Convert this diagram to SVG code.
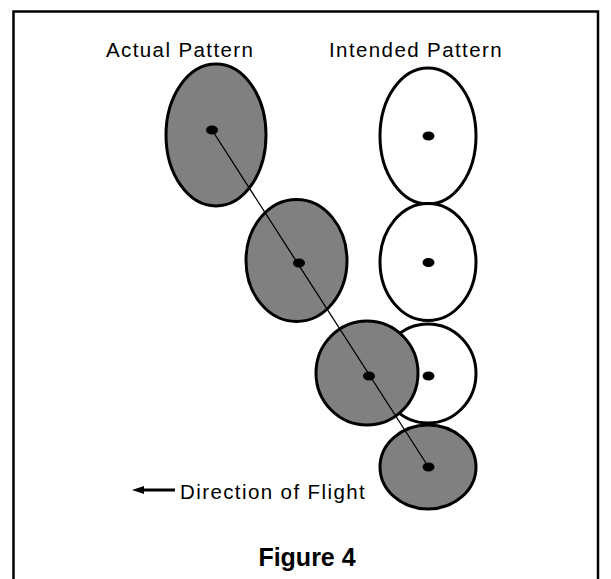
<svg xmlns="http://www.w3.org/2000/svg" width="611" height="579" viewBox="0 0 611 579">
<style>
.lbl{font-family:"Liberation Sans",Arial,sans-serif;font-size:20.5px;fill:#000;letter-spacing:1.4px}
.act{fill:#808080;stroke:#000;stroke-width:3}
.int{fill:#fff;stroke:#000;stroke-width:3}
.dot{fill:#000}
</style>
<defs>
<marker id="ah" viewBox="0 0 12 8" refX="2" refY="4" markerUnits="userSpaceOnUse" markerWidth="12" markerHeight="8" orient="auto">
<path d="M0,0 L12,4 L0,8 z" fill="#000"/>
</marker>
</defs>
<rect x="0" y="0" width="611" height="579" fill="#fff"/>
<rect x="13.5" y="11.5" width="584.5" height="580" fill="none" stroke="#000" stroke-width="2.5"/>
<text class="lbl" x="106" y="57">Actual Pattern</text>
<text class="lbl" x="329" y="57">Intended Pattern</text>
<g id="intended1"><ellipse class="int" cx="428" cy="136" rx="48" ry="68"/></g>
<g id="intended2"><ellipse class="int" cx="428" cy="262" rx="48" ry="58.5"/></g>
<g id="intended3"><ellipse class="int" cx="428" cy="373.5" rx="48" ry="49.5"/></g>
<g id="actual1"><ellipse class="act" cx="216" cy="135" rx="50" ry="71"/></g>
<g id="actual2"><ellipse class="act" cx="296.5" cy="260.5" rx="50.5" ry="61"/></g>
<g id="actual3"><ellipse class="act" cx="367" cy="373" rx="51" ry="52"/></g>
<g id="actual4"><ellipse class="act" cx="428" cy="467" rx="48" ry="42"/></g>
<g id="connectors">
<line x1="212" y1="130" x2="428.5" y2="467" stroke="#000" stroke-width="1.3"/>
<line x1="175" y1="490" x2="142" y2="490" stroke="#000" stroke-width="2.8" marker-end="url(#ah)"/>
</g>
<g id="dots">
<ellipse class="dot" cx="212" cy="130" rx="6" ry="4.5"/>
<ellipse class="dot" cx="299" cy="263" rx="6" ry="4.5"/>
<ellipse class="dot" cx="369" cy="376" rx="6" ry="4.5"/>
<ellipse class="dot" cx="428.5" cy="467" rx="6" ry="4.5"/>
<ellipse class="dot" cx="428.5" cy="136" rx="6" ry="4.5"/>
<ellipse class="dot" cx="428.5" cy="262.5" rx="6" ry="4.5"/>
<ellipse class="dot" cx="428.5" cy="376" rx="6" ry="4.5"/>
</g>
<text class="lbl" x="180" y="499">Direction of Flight</text>
<text x="307" y="566" text-anchor="middle" style="font-family:'Liberation Sans',Arial,sans-serif;font-size:25px;font-weight:bold">Figure 4</text>
</svg>
